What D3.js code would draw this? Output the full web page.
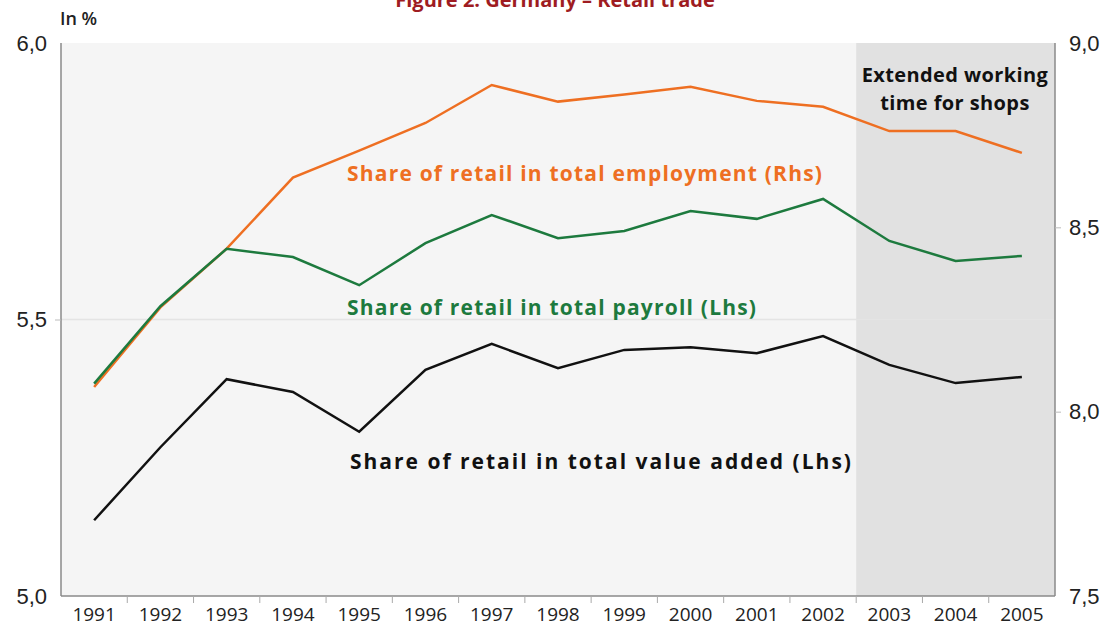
<!DOCTYPE html>
<html>
<head>
<meta charset="utf-8">
<script src="https://cdn.jsdelivr.net/npm/d3@7"></script>
<style>
  body { margin: 0; background: #fff; }
  svg { font-family: "Open Sans", "DejaVu Sans", sans-serif; }
</style>
</head>
<body>
<div id="chart"></div>
<script>
// Data
const years = ['1991','1992','1993','1994','1995','1996','1997','1998','1999','2000','2001','2002','2003','2004','2005'];
const valueAdded = [5.137, 5.269, 5.392, 5.369, 5.297, 5.409, 5.456, 5.412, 5.445, 5.450, 5.439, 5.470, 5.418, 5.385, 5.396];
const payroll    = [5.384, 5.524, 5.628, 5.613, 5.562, 5.638, 5.689, 5.647, 5.660, 5.696, 5.682, 5.718, 5.642, 5.606, 5.615];
const employment = [8.067, 8.283, 8.442, 8.635, 8.708, 8.783, 8.886, 8.841, 8.860, 8.881, 8.843, 8.827, 8.761, 8.761, 8.702];
const leftTicks = [5.0, 5.5, 6.0];
const rightTicks = [7.5, 8.0, 8.5, 9.0];
const shadedYears = ['2003', '2004', '2005'];

const config = {
  width: 1109, height: 630,
  margin: {top: 43, right: 54, bottom: 34, left: 61}
};

const svg = d3.select('#chart').append('svg')
    .attr('width', config.width)
    .attr('height', config.height);

const innerW = config.width - config.margin.left - config.margin.right;
const innerH = config.height - config.margin.top - config.margin.bottom;

const chart = svg.append('g')
    .attr('transform', `translate(${config.margin.left},${config.margin.top})`);

const x = d3.scaleBand().domain(years).range([0, innerW]);
const yL = d3.scaleLinear().domain([5.0, 6.0]).range([innerH, 0]);
const yR = d3.scaleLinear().domain([7.5, 9.0]).range([innerH, 0]);

// background
chart.append('rect')
    .attr('width', innerW).attr('height', innerH)
    .attr('fill', '#f5f5f5');

// shaded period
chart.append('rect')
    .attr('x', x(shadedYears[0]))
    .attr('width', innerW - x(shadedYears[0]))
    .attr('height', innerH)
    .attr('fill', '#e1e1e1');

// grid line at 5,5
chart.append('line')
    .attr('x1', 0).attr('x2', innerW)
    .attr('y1', yL(5.5)).attr('y2', yL(5.5))
    .attr('stroke', '#e4e4e4').attr('stroke-width', 1.5);

// axes
const fmt = d => d3.format('.1f')(d).replace('.', ',');

const leftAxis = chart.append('g')
    .call(d3.axisLeft(yL).tickValues(leftTicks).tickSize(6).tickPadding(8).tickFormat(fmt));
const rightAxis = chart.append('g')
    .attr('transform', `translate(${innerW},0)`)
    .call(d3.axisRight(yR).tickValues(rightTicks).tickSize(6).tickPadding(8).tickFormat(fmt));

[leftAxis, rightAxis].forEach(a => {
  a.select('.domain').attr('stroke', '#8a8a8a').attr('stroke-width', 1.5)
    .attr('d', `M0,0V${innerH}`);
  a.selectAll('.tick line').attr('stroke', '#bbb');
  a.selectAll('.tick text').attr('fill', '#222').style('font-size', '22px');
});
// only the middle ticks carry a tick mark in the original
leftAxis.selectAll('.tick').filter(d => d !== 5.5).select('line').remove();
rightAxis.selectAll('.tick').filter(d => d === 7.5 || d === 9.0).select('line').remove();

// bottom axis
const bottom = chart.append('g').attr('transform', `translate(0,${innerH})`);
bottom.append('line')
    .attr('x1', 0).attr('x2', innerW)
    .attr('stroke', '#8a8a8a').attr('stroke-width', 1.5);
bottom.selectAll('.sep')
    .data(years.slice(1))
  .join('line')
    .attr('x1', d => x(d)).attr('x2', d => x(d))
    .attr('y1', 0).attr('y2', 7)
    .attr('stroke', '#aaa');
bottom.selectAll('.year')
    .data(years)
  .join('text')
    .attr('x', d => x(d) + x.bandwidth() / 2)
    .attr('y', 25)
    .attr('text-anchor', 'middle')
    .attr('fill', '#222')
    .style('font-size', '19px')
    .text(d => d);

// lines
const lineL = d3.line().x((d, i) => x(years[i]) + x.bandwidth() / 2).y(d => yL(d));
const lineR = d3.line().x((d, i) => x(years[i]) + x.bandwidth() / 2).y(d => yR(d));

chart.append('path').datum(valueAdded)
    .attr('d', lineL).attr('fill', 'none')
    .attr('stroke', '#111').attr('stroke-width', 2.5);
chart.append('path').datum(employment)
    .attr('d', lineR).attr('fill', 'none')
    .attr('stroke', '#ee6f22').attr('stroke-width', 2.5);
chart.append('path').datum(payroll)
    .attr('d', lineL).attr('fill', 'none')
    .attr('stroke', '#1d7a3e').attr('stroke-width', 2.5);

// series labels
const labels = [
  {text: 'Share of retail in total employment (Rhs)', color: '#ee6f22', x: 347, y: 181, ls: 1.2},
  {text: 'Share of retail in total payroll (Lhs)', color: '#1d7a3e', x: 347, y: 315, ls: 1.2},
  {text: 'Share of retail in total value added (Lhs)', color: '#111', x: 350, y: 469, ls: 2.0}
];
svg.selectAll('.series-label')
    .data(labels)
  .join('text')
    .attr('x', d => d.x).attr('y', d => d.y)
    .attr('fill', d => d.color)
    .style('font-size', '21px').style('font-weight', 700)
    .style('letter-spacing', d => d.ls + 'px')
    .text(d => d.text);

// annotation in shaded area
const ann = svg.append('text')
    .attr('text-anchor', 'middle')
    .attr('fill', '#111')
    .style('font-size', '20px').style('font-weight', 700)
    .style('letter-spacing', '0.4px');
ann.append('tspan').attr('x', 955).attr('y', 82).text('Extended working');
ann.append('tspan').attr('x', 955).attr('y', 110).text('time for shops');

// title (cut at top edge as in the source) and unit
svg.append('text')
    .attr('x', 555).attr('y', 7)
    .attr('text-anchor', 'middle')
    .attr('fill', '#9e1c22')
    .style('font-size', '20px').style('font-weight', 700)
    .text('Figure 2: Germany – Retail trade');
svg.append('text')
    .attr('x', 60).attr('y', 25)
    .attr('fill', '#222')
    .style('font-size', '18px').style('font-weight', 600)
    .text('In %');
</script>
</body>
</html>
